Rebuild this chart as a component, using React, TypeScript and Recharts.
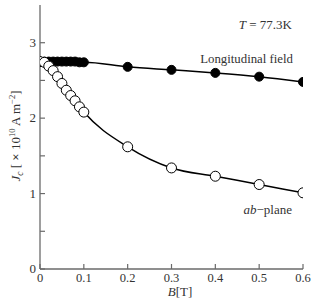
import React from 'react';
import { ComposedChart, Line, XAxis, YAxis } from 'recharts';

// Critical current density vs applied field at 77.3 K
const longitudinalB = [0, 0.01, 0.02, 0.03, 0.04, 0.05, 0.06, 0.07, 0.08, 0.09, 0.1, 0.2, 0.3, 0.4, 0.5, 0.6];
const longitudinalJc = [2.75, 2.75, 2.75, 2.75, 2.75, 2.75, 2.75, 2.75, 2.75, 2.74, 2.74, 2.68, 2.64, 2.6, 2.55, 2.48];

const abPlaneB = [0, 0.01, 0.02, 0.03, 0.04, 0.05, 0.06, 0.07, 0.08, 0.09, 0.1, 0.2, 0.3, 0.4, 0.5, 0.6];
const abPlaneJc = [2.75, 2.74, 2.69, 2.63, 2.55, 2.46, 2.37, 2.3, 2.23, 2.15, 2.08, 1.62, 1.34, 1.23, 1.12, 1.01];

const xTicks = [0, 0.1, 0.2, 0.3, 0.4, 0.5, 0.6];
const yTicks = [0, 0.5, 1, 1.5, 2, 2.5, 3];
const yLabeled = [0, 1, 2, 3];

const longitudinalData = longitudinalB.map((b, i) => ({ b, jc: longitudinalJc[i] }));
const abPlaneData = abPlaneB.map((b, i) => ({ b, jc: abPlaneJc[i] }));

const W = 312;
const H = 303;
const FONT = '"Liberation Serif", "DejaVu Serif", serif';
const AXIS = '#6a6a6a';
const TEXT = '#333';
const TICK = 5;

const BottomTick = (p: any) => {
  const { x, y, payload } = p;
  return (
    <g>
      <line x1={x} x2={x} y1={y} y2={y - TICK} stroke={AXIS} strokeWidth={1.2} />
      <text x={x} y={y + 13} textAnchor="middle" fontFamily={FONT} fontSize={12.5} fill={TEXT}>
        {payload.value === 0 ? '0' : payload.value.toFixed(1)}
      </text>
    </g>
  );
};

const TopTick = (p: any) => {
  const { x, y } = p;
  return <line x1={x} x2={x} y1={y} y2={y + TICK} stroke={AXIS} strokeWidth={1.2} />;
};

const LeftTick = (p: any) => {
  const { x, y, payload } = p;
  const labeled = yLabeled.includes(payload.value);
  return (
    <g>
      <line x1={x} x2={x + TICK} y1={y} y2={y} stroke={AXIS} strokeWidth={1.2} />
      {labeled && (
        <text x={x - 4} y={y + 4} textAnchor="end" fontFamily={FONT} fontSize={13} fill={TEXT}>
          {payload.value}
        </text>
      )}
    </g>
  );
};

const RightTick = (p: any) => {
  const { x, y } = p;
  return <line x1={x} x2={x - TICK} y1={y} y2={y} stroke={AXIS} strokeWidth={1.2} />;
};

export default function App() {
  return (
    <div style={{ position: 'absolute', left: 0, top: 0, width: W, height: H, background: '#fff' }}>
      <ComposedChart width={W} height={H} margin={{ top: 5, right: 9, bottom: 4, left: 10 }}>
        <XAxis
          xAxisId="bottom"
          type="number"
          dataKey="b"
          domain={[0, 0.6]}
          ticks={xTicks}
          orientation="bottom"
          height={30}
          tickSize={0}
          tickMargin={0}
          tickLine={false}
          tick={<BottomTick />}
          axisLine={{ stroke: AXIS, strokeWidth: 1.3 }}
          allowDataOverflow
          interval={0}
        />
        <XAxis
          xAxisId="top"
          type="number"
          dataKey="b"
          domain={[0, 0.6]}
          ticks={xTicks}
          orientation="top"
          height={0}
          tickSize={0}
          tickMargin={0}
          tickLine={false}
          tick={<TopTick />}
          axisLine={{ stroke: AXIS, strokeWidth: 1.3 }}
          interval={0}
        />
        <YAxis
          yAxisId="left"
          type="number"
          domain={[0, 3.5]}
          ticks={yTicks}
          orientation="left"
          width={30}
          tickSize={0}
          tickMargin={0}
          tickLine={false}
          tick={<LeftTick />}
          axisLine={{ stroke: AXIS, strokeWidth: 1.3 }}
          interval={0}
        />
        <YAxis
          yAxisId="right"
          type="number"
          domain={[0, 3.5]}
          ticks={yTicks}
          orientation="right"
          width={0}
          tickSize={0}
          tickMargin={0}
          tickLine={false}
          tick={<RightTick />}
          axisLine={{ stroke: AXIS, strokeWidth: 1.3 }}
          interval={0}
        />
        <Line
          xAxisId="bottom"
          yAxisId="left"
          data={longitudinalData}
          dataKey="jc"
          type="monotone"
          stroke="#000"
          strokeWidth={1.5}
          dot={{ r: 4.5, fill: '#000', stroke: '#000', strokeWidth: 1 }}
          isAnimationActive={false}
        />
        <Line
          xAxisId="bottom"
          yAxisId="left"
          data={abPlaneData}
          dataKey="jc"
          type="monotone"
          stroke="#000"
          strokeWidth={1.5}
          dot={{ r: 5, fill: '#fff', stroke: '#000', strokeWidth: 1 }}
          isAnimationActive={false}
        />
      </ComposedChart>
      <svg
        width={W}
        height={H}
        style={{ position: 'absolute', left: 0, top: 0, pointerEvents: 'none' }}
        fontFamily={FONT}
        fill={TEXT}
      >
        <text x={292} y={29} textAnchor="end" fontSize={13}>
          <tspan fontStyle="italic">T</tspan>
          <tspan> = 77.3K</tspan>
        </text>
        <text x={293} y={63} textAnchor="end" fontSize={12.8}>
          Longitudinal field
        </text>
        <text x={292} y={214} textAnchor="end" fontSize={13}>
          <tspan fontStyle="italic">ab</tspan>
          <tspan>−plane</tspan>
        </text>
        <text x={180} y={296} textAnchor="middle" fontSize={13}>
          <tspan fontStyle="italic">B</tspan>
          <tspan>[T]</tspan>
        </text>
        <text transform="translate(20,136) rotate(-90)" textAnchor="middle" fontSize={13}>
          <tspan fontStyle="italic">J</tspan>
          <tspan fontStyle="italic" fontSize={9.5} dy={3}>c</tspan>
          <tspan dy={-3}> [ </tspan>
          <tspan fontWeight="bold">×</tspan>
          <tspan> 10</tspan>
          <tspan fontSize={8.5} dy={-5}>10</tspan>
          <tspan dy={5}> A m</tspan>
          <tspan fontSize={8.5} dy={-5}>−2</tspan>
          <tspan dy={5}>]</tspan>
        </text>
      </svg>
    </div>
  );
}
